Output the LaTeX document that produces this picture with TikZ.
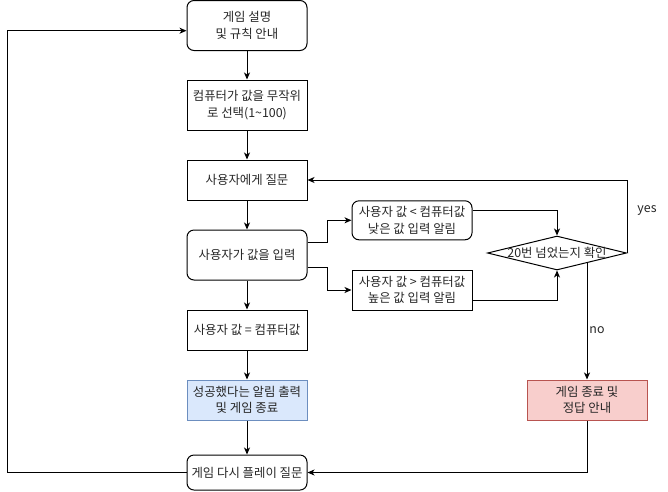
\documentclass[tikz,border=0pt]{standalone}
\usepackage{fontspec}
\setmainfont{Noto Sans CJK KR}
\usetikzlibrary{shapes.geometric,arrows.meta}
\definecolor{bluefill}{HTML}{DAE8FC}
\definecolor{blueline}{HTML}{6C8EBF}
\definecolor{redfill}{HTML}{F8CECC}
\definecolor{redline}{HTML}{B85450}
\begin{document}
\begin{tikzpicture}[x=1pt,y=-1pt,
  every node/.style={font=\fontsize{12.4}{16.5}\selectfont, align=center, inner sep=0pt, text=black!85},
  box/.style={draw, line width=1pt, minimum width=120pt},
  rbox/.style={box, rounded corners=7pt},
  arr/.style={draw, line width=1pt, -{Stealth[length=7pt,width=6pt,inset=2pt]}}]
\useasboundingbox (0,0) rectangle (668,491);
\node[rbox, minimum height=50pt] (g1) at (247,25.5) {게임 설명\\및 규칙 안내};
\node[box, minimum height=50pt] (g2) at (247,105) {컴퓨터가 값을 무작위\\로 선택(1\textasciitilde100)};
\node[box, minimum height=40pt] (g3) at (247,180) {사용자에게 질문};
\node[rbox, minimum height=50pt] (g4) at (247,255) {사용자가 값을 입력};
\node[box, minimum height=40pt] (g5) at (247,330) {사용자 값 = 컴퓨터값};
\node[box, draw=blueline, fill=bluefill, minimum height=40pt] (g6) at (247,400) {성공했다는 알림 출력\\및 게임 종료};
\node[rbox, minimum height=35pt] (g7) at (247,472.5) {게임 다시 플레이 질문};
\node[rbox, minimum height=39pt] (s1) at (412,220.3) {사용자 값 < 컴퓨터값\\낮은 값 입력 알림};
\node[box, minimum height=40pt] (s2) at (412,290) {사용자 값 > 컴퓨터값\\높은 값 입력 알림};
\node[draw, diamond, line width=1pt, minimum width=139pt, minimum height=34pt] (d) at (557,253) {};
\node (dt) at (d.center) {20번 넘었는지 확인};
\node[box, draw=redline, fill=redfill, minimum height=40pt] (r) at (587,400) {게임 종료 및\\정답 안내};
\node (yes) at (647,210) {yes};
\node (no) at (597,330) {no};
\draw[arr] (g1) -- (g2);
\draw[arr] (g2) -- (g3);
\draw[arr] (g3) -- (g4);
\draw[arr] (g4) -- (g5);
\draw[arr] (g5) -- (g6);
\draw[arr] (g6) -- (g7);
\draw[arr] ([yshift=12.5pt]g4.east) -- ++(20,0) |- (s1.west);
\draw[arr] ([yshift=-12.5pt]g4.east) -- ++(20,0) |- (s2.west);
\draw[arr] ([yshift=10pt]s1.east) -| (d.north);
\draw[arr] ([yshift=-10pt]s2.east) -| (d.south);
\draw[arr] (d.east) |- (g3.east);
\draw[arr] (r.north |- d.-16) -- (r.north);
\draw[arr] (r.south) |- (g7.east);
\coordinate (lt) at (7,30.7);
\draw[arr] (g7.west) -| (lt) -- (lt -| g1.west);
\end{tikzpicture}
\end{document}
